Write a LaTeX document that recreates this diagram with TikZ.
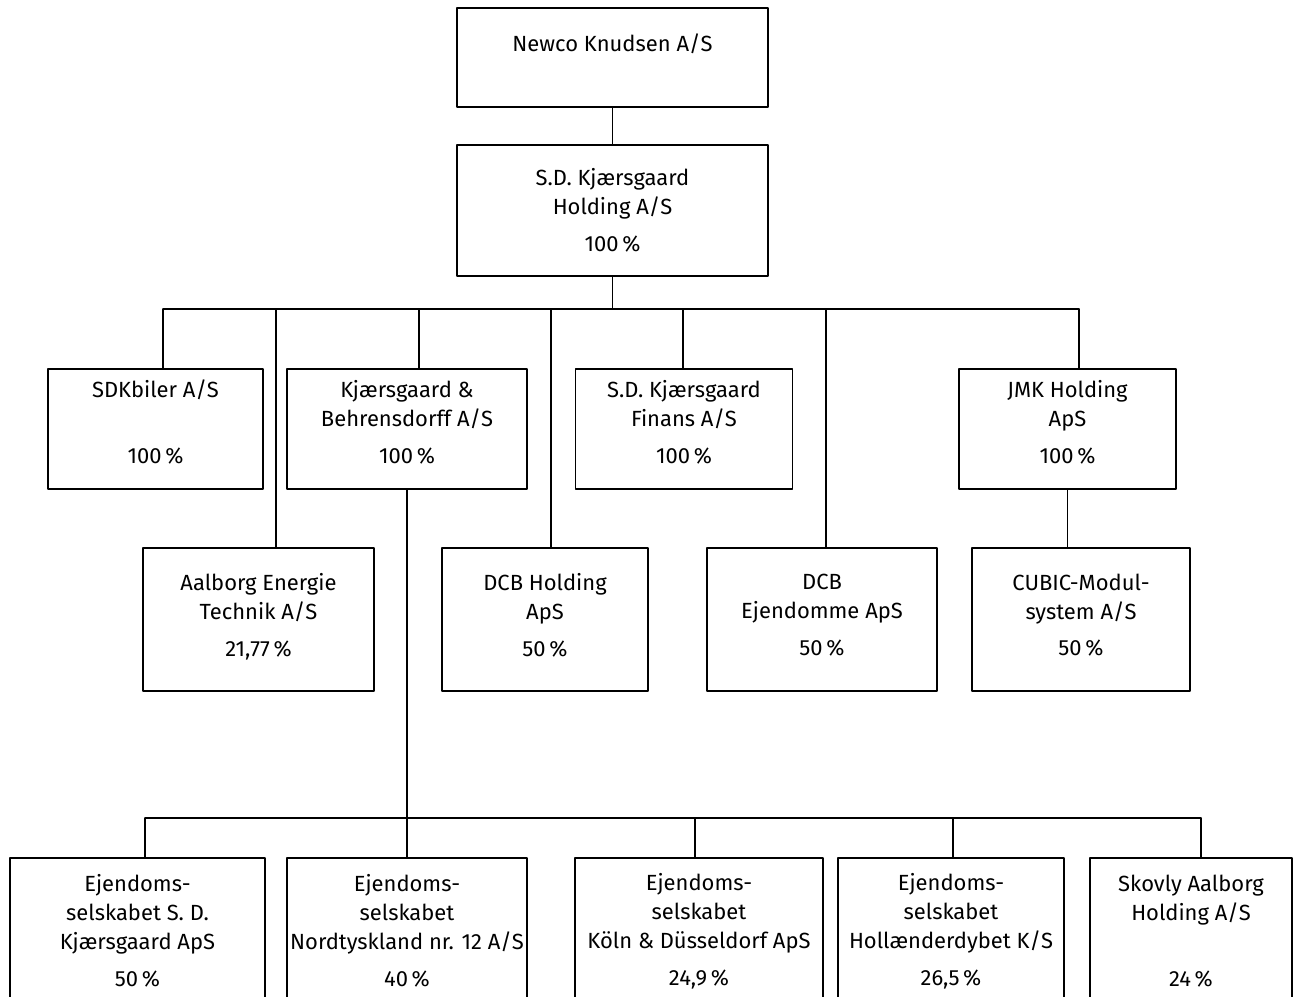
\documentclass[tikz,border=0pt]{standalone}
\usepackage{fontspec}
\setmainfont{Fira Sans}
% extra depth under the last line lifts the text in its box
\newcommand\tief[1]{\rule[-#1]{0pt}{0pt}}

\begin{document}
\begin{tikzpicture}[line cap=round,line join=round,x=0.02cm,y=-0.02cm,
    firma/.style={draw,line width=0.6pt,align=center,inner sep=0pt,font=\fontsize{12.5}{16.5}\selectfont},
    wh/.style 2 args={minimum width=#1*0.02cm,minimum height=#2*0.02cm}]
      \useasboundingbox (0,0) rectangle (1312,997);
      \clip (0,0) rectangle (1312,997);
      % top
      \node[firma,wh={311}{99}] (newco) at (612.5,57.5) {Newco Knudsen A/S\\\mbox{}};
      \node[firma,wh={311}{131}] (holding) at (612.5,210.5) {S.D. Kjærsgaard\\Holding A/S\\[4.5pt]100\,\%};
      % row 2
      \node[firma,wh={215}{120}] (sdk) at (155.5,429) {SDKbiler A/S\\\mbox{}\\[4.5pt]100\,\%\tief{0.29cm}};
      \node[firma,wh={240}{120}] (kb) at (407,429) {Kjærsgaard \&\\Behrensdorff A/S\\[4.5pt]100\,\%\tief{0.29cm}};
      \node[firma,wh={217}{120}] (finans) at (684,429) {S.D. Kjærsgaard\\Finans A/S\\[4.5pt]100\,\%\tief{0.29cm}};
      \node[firma,wh={217}{120}] (jmk) at (1067.5,429) {JMK Holding\\ApS\\[4.5pt]100\,\%\tief{0.29cm}};
      % row 3
      \node[firma,wh={231}{143}] (aet) at (258.5,619.5) {Aalborg Energie\\Technik A/S\\[4.5pt]21,77\,\%\tief{0.19cm}};
      \node[firma,wh={206}{143}] (dcbh) at (545,619.5) {DCB Holding\\ApS\\[4.5pt]50\,\%\tief{0.19cm}};
      \node[firma,wh={230}{143}] (dcbe) at (822,619.5) {DCB\\Ejendomme ApS\\[4.5pt]50\,\%\tief{0.19cm}};
      \node[firma,wh={218}{143}] (cubic) at (1081,619.5) {CUBIC-Modul-\\system A/S\\[4.5pt]50\,\%\tief{0.19cm}};
      % row 4
      \node[firma,wh={255}{146}] (ejsd) at (137.5,931) {Ejendoms-\\selskabet S. D.\\Kjærsgaard ApS\\[4.5pt]50\,\%};
      \node[firma,wh={240}{146}] (ejnord) at (407,931) {Ejendoms-\\selskabet\\Nordtyskland nr. 12 A/S\\[4.5pt]40\,\%};
      \node[firma,wh={248}{146}] (ejkoln) at (699,931) {Ejendoms-\\selskabet\\Köln \& Düsseldorf ApS\\[4.5pt]24,9\,\%};
      \node[firma,wh={226}{146}] (ejholl) at (951,931) {Ejendoms-\\selskabet\\Hollænderdybet K/S\\[4.5pt]26,5\,\%};
      \node[firma,wh={202}{146}] (skovly) at (1191,931) {Skovly Aalborg\\Holding A/S\\\mbox{}\\[4.5pt]24\,\%};

      % connectors
      \draw[line width=0.6pt] (newco) -- (holding);
      \coordinate (t-sdk) at (163,309);
      \coordinate (t-aet) at (276,309);
      \coordinate (t-kb) at (419,309);
      \coordinate (t-dcbh) at (551,309);
      \coordinate (t-finans) at (683,309);
      \coordinate (t-dcbe) at (826,309);
      \coordinate (t-jmk) at (1079,309);
      \draw[line width=0.6pt] (holding.south) -- (holding.south |- t-sdk);
      \draw[line width=0.6pt] (t-sdk) -- (t-jmk);
      \foreach \n in {sdk,aet,kb,dcbh,finans,dcbe,jmk}
      \draw[line width=0.6pt] (t-\n) -- (t-\n |- \n.north);
      \draw[line width=0.6pt] (jmk.south) -- (jmk.south |- cubic.north);
      % lower group
      \coordinate (u-ejsd) at (145,818);
      \coordinate (u-ejkoln) at (695,818);
      \coordinate (u-ejholl) at (953,818);
      \coordinate (u-skovly) at (1201,818);
      \draw[line width=0.6pt] (kb.south) -- (ejnord.north);
      \draw[line width=0.6pt] (u-ejsd) -- (u-skovly);
      \foreach \n in {ejsd,ejkoln,ejholl,skovly}
      \draw[line width=0.6pt] (u-\n) -- (u-\n |- \n.north);
\end{tikzpicture}
\end{document}
